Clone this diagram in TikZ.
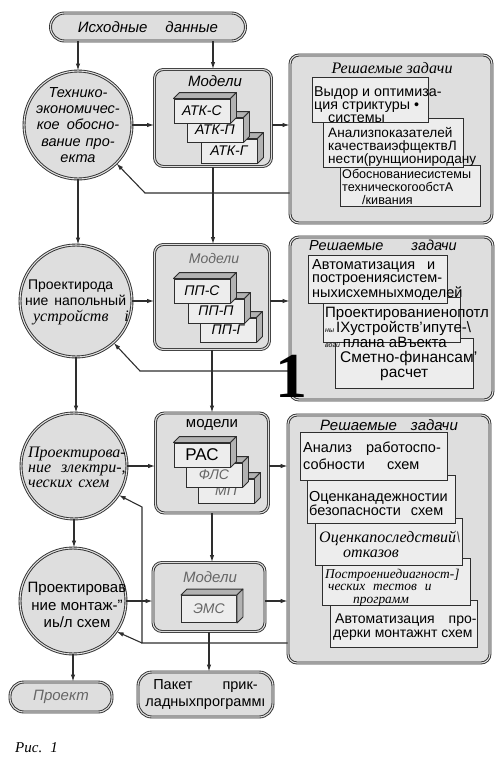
\documentclass[tikz,border=0pt]{standalone}
\usepackage{fontspec}
\setmainfont{Liberation Serif}
\setsansfont{Liberation Sans}
\usetikzlibrary{arrows.meta}
\newcommand\myfs[2]{\fontsize{#1}{#2}\selectfont}
\definecolor{ink}{gray}{0.18}
\definecolor{boxfill}{gray}{0.87}
\definecolor{innerfill}{gray}{0.93}
\definecolor{facefill}{gray}{0.70}
\definecolor{softink}{gray}{0.40}
\newcommand\cubebox[4][]{%
  \node[blk,#1] (#2) at (#3) {#4};
  \draw[blkface] (#2.north west) -- ([shift={(6,-6)}]#2.north west) -- ([shift={(6,-6)}]#2.north east) -- (#2.north east) -- cycle;
  \draw[blkface] (#2.north east) -- ([shift={(6,-6)}]#2.north east) -- ([shift={(6,-6)}]#2.south east) -- (#2.south east) -- cycle;
}
\tikzset{
  cont/.style={draw=ink, line width=0.9pt, double=boxfill, double distance=1.1pt, fill=boxfill, rounded corners=9pt},
  circ/.style={circle, draw=ink, line width=0.9pt, double=boxfill, double distance=1.1pt, fill=boxfill, inner sep=0pt},
  pill/.style={draw=ink, line width=0.9pt, double=boxfill, double distance=1.1pt, fill=boxfill, rounded corners=14pt, inner sep=0pt},
  blk/.style={draw=ink, line width=0.9pt, fill=innerfill, minimum width=56pt, minimum height=24pt, inner sep=0pt, font=\sffamily\itshape\myfs{14}{14}},
  blkface/.style={draw=ink, line width=0.9pt, fill=facefill, line join=round},
  tb/.style={draw=ink, line width=1.1pt, fill=innerfill, inner sep=0pt, anchor=north west},
  tx/.style={inner sep=0pt, align=left, anchor=north west, font=\sffamily\myfs{14.3}{13}},
  conn/.style={draw=ink, line width=1.1pt},
  arr/.style={conn, -{Latex[length=7pt,width=4.5pt]}},
  lbl/.style={inner sep=0pt, align=center},
}
\begin{document}
\begin{tikzpicture}[x=1pt,y=-1pt]
\useasboundingbox (0,0) rectangle (500,758);

% ---------- top source ----------
\node[pill, minimum width=195pt, minimum height=28pt] (src) at (148,27) {};
\node[lbl, font=\sffamily\itshape\myfs{15}{15}] (srct) at (src) {Исходные\hspace{18pt}данные};

% ---------- circles ----------
\node[circ, minimum size=108pt] (c1) at (78,125) {};
\node[lbl, font=\sffamily\itshape\myfs{14.5}{16.3}] (c1t) at (c1) {Технико-\\экономичес-\\кое\hspace{7pt}обосно-\\вание\hspace{5pt}про-\\екта};

\node[circ, minimum size=112pt] (c2) at (76,301) {};
\node[lbl, align=left, font=\sffamily\myfs{14}{16}] (c2t) at (77,302) {\hspace*{3pt}Проектирода\\ние\hspace{6pt}напольный\\\hspace*{8pt}{\rmfamily\itshape\myfs{16}{16}устройств\hspace{16pt}i}};

\node[circ, minimum size=106pt] (c3) at (74,466) {};
\node[lbl, align=left, font=\rmfamily\itshape\myfs{16}{15}] (c3t) at (77,467) {Проектирова-\\ние\hspace{10pt}злектри-,\\ческих\hspace{6pt}схем};

\node[circ, minimum size=106pt] (c4) at (73,601) {};
\node[lbl, font=\sffamily\myfs{15}{17.5}] (c4t) at (77,605) {Проектировав\\ние монтаж-"\\иь/л схем};

% ---------- model boxes ----------
\node[cont, minimum width=117pt, minimum height=97pt] (m1) at (213,118) {};
\node[lbl, font=\sffamily\itshape\myfs{15}{15}] (m1t) at (215,81) {Модели};
\cubebox{a3}{229,151}{АТК-Г}
\cubebox{a2}{215,130}{АТК-П}
\cubebox{a1}{202,111}{АТК-С}

\node[cont, minimum width=115pt, minimum height=105pt] (m2) at (212,297) {};
\node[lbl, text=softink, font=\sffamily\itshape\myfs{14}{14}] (m2t) at (214,258) {Модели};
\cubebox{q3}{228,330}{ПП-Г}
\cubebox{q2}{216,311}{ПП-П}
\cubebox{q1}{202,291}{ПП-С}

\node[cont, minimum width=113pt, minimum height=100pt] (m3) at (212,463) {};
\node[lbl, font=\sffamily\myfs{15}{15}] (m3t) at (212,425) {модели};
\cubebox[text=softink]{r3}{226,491}{МП}
\cubebox[text=softink]{r2}{214,475}{ФЛС}
\cubebox[font=\sffamily\myfs{17}{17}]{r1}{202,455}{РАС}

\node[cont, minimum width=112pt, minimum height=69pt] (m4) at (209,597) {};
\node[lbl, text=softink, font=\sffamily\itshape\myfs{15}{15}] (m4t) at (210,577) {Модели};
\cubebox[text=softink, minimum width=55pt, minimum height=27pt]{e1}{209,609}{ЭМС}

% ---------- task panel 1 ----------
\node[cont, minimum width=202pt, minimum height=168pt] (p1) at (391,139) {};
\node[lbl, font=\rmfamily\itshape\myfs{16}{16}] (p1t) at (392,68) {Решаемые задачи};
\node[tb, minimum width=140pt, minimum height=41pt] (p1c) at (340,165) {};
\node[tx, font=\sffamily\myfs{12.6}{12.6}] (p1ct) at (342,169.5) {Обоснованиесистемы\\техническогообстА\\\hspace*{20pt}/кивания};
\node[tb, minimum width=140pt, minimum height=49pt] (p1b) at (323,118) {};
\node[tx, font=\sffamily\myfs{13.6}{13.2}] (p1bt) at (328,127) {Анализпоказателей\\качестваиэфщектвЛ\\нести(рунщиониродану};
\node[tb, minimum width=116pt, minimum height=45pt] (p1a) at (312,77) {};
\node[tx] (p1at) at (314,86) {Выдор и оптимиза-\\ция стриктуры •\\\hspace*{14pt}системы};

% ---------- task panel 2 ----------
\node[cont, minimum width=203pt, minimum height=163pt] (p2) at (391.5,318.5) {};
\node[lbl, font=\sffamily\itshape\myfs{14.5}{14.5}] (p2t) at (383,245) {Решаемые\hspace{28pt}задачи};
\node[tb, minimum width=138pt, minimum height=50pt] (p2c) at (335,338) {};
\node[tx, font=\sffamily\myfs{15.5}{15}] (p2ct) at (340,351) {Сметно-финансам'\\\hspace*{40pt}расчет};
\node[tb, minimum width=137pt, minimum height=45pt] (p2b) at (323,297) {};
\node[tx, font=\sffamily\myfs{15}{12}] (p2bt) at (325,307) {Проектированиенопотл\\{\itshape\myfs{7}{7}ны}\hspace{2pt}IXустройств'ипуте-\textbackslash\\{\itshape\myfs{7}{7}вогü}\hspace{3pt}плана аВъекта};
\node[tb, minimum width=139pt, minimum height=48pt] (p2a) at (308,255) {};
\node[tx, font=\sffamily\myfs{14.5}{13.5}] (p2at) at (312,259) {Автоматизация\hspace{12pt}и\\построениясистем-\\ныхисхемныхмоделей};

% ---------- task panel 3 ----------
\node[cont, minimum width=202pt, minimum height=248pt] (p3) at (389,539) {};
\node[lbl, font=\sffamily\itshape\myfs{15}{15}] (p3t) at (389,425) {Решаемые\hspace{14pt}задачи};
\node[tb, minimum width=147pt, minimum height=47pt] (p3e) at (330,600) {};
\node[tx, font=\sffamily\myfs{14}{13.5}] (p3et) at (333,614) {\hspace*{2pt}Автоматизация\hspace{14pt}про-\\дерки монтажнт схем};
\node[tb, minimum width=148pt, minimum height=47pt] (p3d) at (322,558) {};
\node[tx, font=\rmfamily\itshape\myfs{13.4}{12.6}] (p3dt) at (325,568.5) {Построениедиагност-]\\\hspace*{3pt}ческих\hspace{8pt}тестов\hspace{8pt}и\\\hspace*{28pt}программ};
\node[tb, minimum width=147pt, minimum height=47pt] (p3c) at (315,518) {};
\node[tx, font=\rmfamily\itshape\myfs{16}{15}] (p3ct) at (319,531) {Оценкапоследствий\textbackslash\\\hspace*{24pt}отказов};
\node[tb, minimum width=148pt, minimum height=48pt] (p3b) at (307,475) {};
\node[tx, font=\sffamily\myfs{14.5}{13}] (p3bt) at (309,491) {Оценканадежностии\\безопасности\hspace{10pt}схем};
\node[tb, minimum width=147pt, minimum height=48pt] (p3a) at (300,432) {};
\node[tx, font=\sffamily\myfs{14.5}{16.5}] (p3at) at (303,442) {Анализ\hspace{14pt}работоспо-\\собности\hspace{22pt}схем};

% ---------- bottom results ----------
\node[pill, minimum width=102pt, minimum height=30pt] (proj) at (61,697) {};
\node[lbl, text=softink, font=\sffamily\itshape\myfs{15}{15}] (projt) at (proj) {Проект};
\node[pill, minimum width=135pt, minimum height=45pt] (pak) at (205.5,694.5) {};
\node[lbl, font=\sffamily\myfs{14.5}{17}] (pakt) at (pak) {Пакет\hspace{30pt}прик-\\ладныхпрограммı};

% ---------- connectors ----------
\coordinate (f1) at (145,193);
\coordinate (f2) at (140,371);
\coordinate (f3) at (142,643);
\coordinate (f4) at (142,507);

\draw[arr] (src.south -| c1) -- (c1.north);
\draw[arr] (src.south -| m1) -- (m1.north);

\draw[arr] (c1.east) -- (c1.east -| m1.west);
\draw[arr] (m1.east |- c1) -- (p1.west |- c1);
\draw[arr] (p1.west |- f1) -- (f1) -- (c1.-45);
\draw[arr] (c1.south) -- (c1.south |- c2.north);
\draw[arr] (m1.south) -- (m1.south |- m2.north);

\draw[arr] (c2.east) -- (c2.east -| m2.west);
\draw[arr] (m2.east |- c2) -- (p2.west |- c2);
\draw[arr] (p2.west |- f2) -- (f2) -- (c2.-48);
\draw[arr] (c2.south) -- (c2.south |- c3.north);
\draw[arr] (m2.south) -- (m2.south |- m3.north);

\draw[arr] (c3.east) -- (c3.east -| m3.west);
\draw[arr] (m3.east |- c3) -- (p3.west |- c3);
\draw[arr] (c3.south) -- (c3.south |- c4.north);
\draw[arr] (m3.south) -- (m3.south |- m4.north);

\draw[arr] (c4.east) -- (c4.east -| m4.west);
\draw[arr] (m4.east |- c4) -- (p3.west |- c4);
\draw[arr] (p3.west |- f3) -- (f3) -- (f4) -- (c3.-33);
\draw[arr] (f3) -- (c4.-35);
\draw[arr] (c4.south) -- (c4.south |- proj.north);
\draw[arr] (m4.south) -- (m4.south |- pak.north);

% ---------- marks ----------
\node[lbl, font=\rmfamily\bfseries\myfs{64}{64}] (one) at (291,376) {1};
\node[lbl, anchor=west, font=\rmfamily\itshape\myfs{15}{15}] (cap) at (15,748) {Рис.\hspace{8pt}1};
\end{tikzpicture}
\end{document}
